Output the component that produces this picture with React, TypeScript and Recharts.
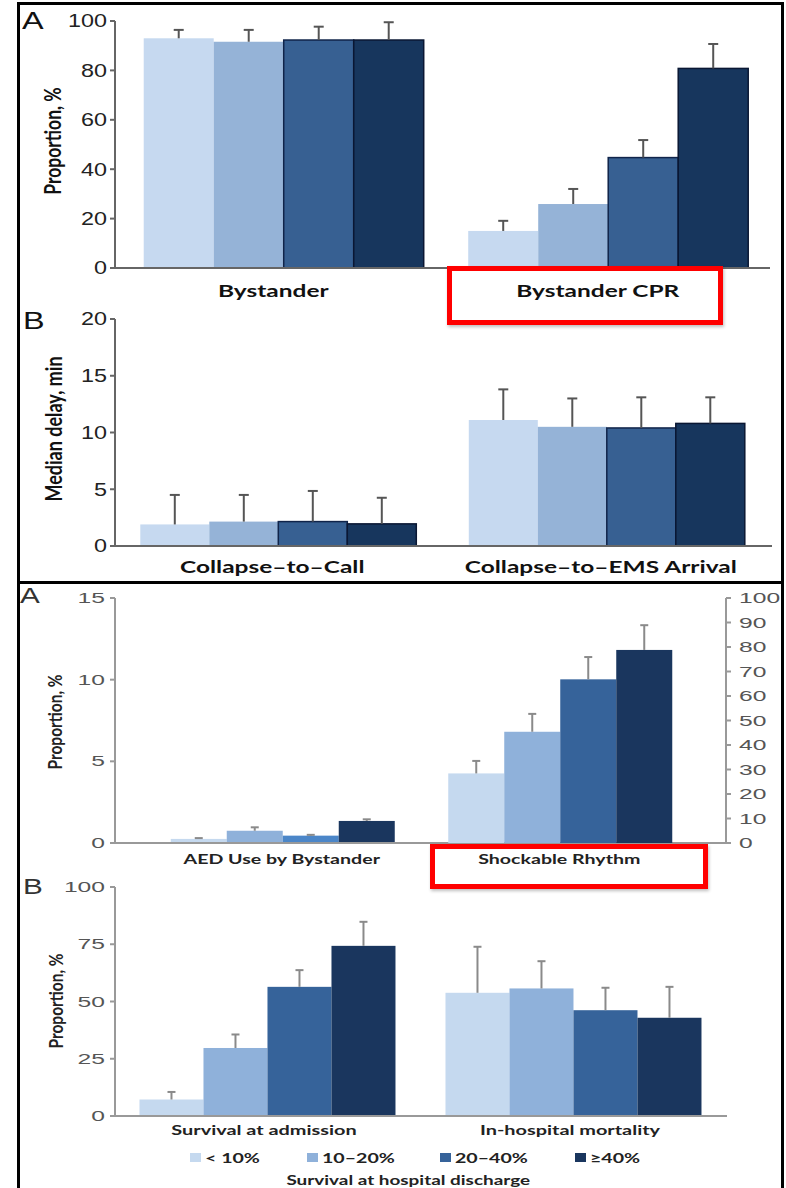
import React from "react";
import { BarChart, Bar, XAxis, YAxis, Legend, Cell } from "recharts";

// series (survival-at-discharge groups)
const seriesNames = ["< 10%", "10–20%", "20–40%", "≥40%"];
const colorsTop = ["#c6d9f0", "#95b3d7", "#376092", "#17365d"];
const colorsBottom = ["#c5d9ef", "#8fb1da", "#36639a", "#1a365e"];
const aedHighlight = "#4b86c8";

// top A
const panelACats = ["Bystander", "Bystander CPR"];
const bystander = [93, 91.6, 92.3, 92.3];
const bystanderUpper = [96.4, 96.4, 97.7, 99.5];
const bystanderCpr = [15, 25.9, 44.7, 80.8];
const bystanderCprUpper = [19.1, 32, 51.8, 90.7];
const panelATicks = [0, 20, 40, 60, 80, 100];

// top B
const panelBCats = ["Collapse–to–Call", "Collapse–to–EMS Arrival"];
const collapseToCall = [1.9, 2.15, 2.15, 1.95];
const collapseToCallUpper = [4.5, 4.5, 4.85, 4.25];
const collapseToEms = [11.1, 10.5, 10.4, 10.8];
const collapseToEmsUpper = [13.8, 13.0, 13.1, 13.1];
const panelBTicks = [0, 5, 10, 15, 20];

// bottom A (AED on left axis, shockable rhythm on right axis)
const panelCCats = ["AED Use by Bystander", "Shockable Rhythm"];
const aedUse = [0.25, 0.75, 0.45, 1.35];
const aedUseUpper = [0.3, 0.96, 0.5, 1.45];
const shockable = [28.4, 45.4, 66.8, 78.8];
const shockableUpper = [33.5, 52.7, 75.9, 88.9];
const panelCLeftTicks = [0, 5, 10, 15];
const panelCRightTicks = [0, 10, 20, 30, 40, 50, 60, 70, 80, 90, 100];

// bottom B
const panelDCats = ["Survival at admission", "In-hospital mortality"];
const survivalAdmission = [7.2, 29.7, 56.4, 74.3];
const survivalAdmissionUpper = [10.5, 35.6, 63.7, 84.8];
const inHospitalMortality = [53.8, 55.7, 46.2, 42.9];
const inHospitalMortalityUpper = [73.9, 67.6, 56, 56.4];
const panelDTicks = [0, 25, 50, 75, 100];

const NUM = "'Liberation Sans', Arial, sans-serif";
const LBL = "Lato, 'Open Sans', sans-serif";

const buildRows = (cats: string[], vals: (number[] | null)[], uppers: (number[] | null)[]) =>
  cats.map((c, i) => {
    const r: any = { cat: c };
    const v = vals[i];
    const u = uppers[i];
    if (v && u) {
      v.forEach((val, j) => {
        r[`s${j}`] = val;
        r[`u${j}`] = u[j];
      });
    }
    return r;
  });

const rowsA = buildRows(panelACats, [bystander, bystanderCpr], [bystanderUpper, bystanderCprUpper]);
const rowsB = buildRows(panelBCats, [collapseToCall, collapseToEms], [collapseToCallUpper, collapseToEmsUpper]);
const rowsCLeft = buildRows(panelCCats, [aedUse, null], [aedUseUpper, null]);
const rowsCRight = buildRows(panelCCats, [null, shockable], [null, shockableUpper]);
const rowsD = buildRows(panelDCats, [survivalAdmission, inHospitalMortality], [survivalAdmissionUpper, inHospitalMortalityUpper]);

type TickOpts = { size: number; sx: number; fill: string; family: string; weight?: number; dy?: number; dx?: number };
const makeTick = (o: TickOpts) => (p: any) => (
  <g transform={`translate(${p.x + (o.dx ?? 0)},${p.y})`}>
    <text
      transform={`scale(${o.sx},1)`}
      textAnchor={p.textAnchor}
      dy={o.dy ?? 0}
      dominantBaseline="central"
      fontSize={o.size}
      fontFamily={o.family}
      fontWeight={o.weight ?? 400}
      fill={o.fill}
    >
      {p.payload.value}
    </text>
  </g>
);

// bar rect plus an upward-only whisker; whisker length scaled from the bar's own pixel height
const whiskerBar = (idx: number, stroke: string | null, errColor: string, capW: number) => (props: any) => {
  const { x, y, width, height, payload, fill } = props;
  const v = payload[`s${idx}`];
  const u = payload[`u${idx}`];
  if (v == null || !width) return null;
  const top = v && height > 0 ? y - ((u - v) * height) / v : y;
  const cx = x + width / 2;
  return (
    <g>
      <rect x={x} y={y} width={width} height={height} fill={fill} stroke={stroke ?? "none"} strokeWidth={stroke ? 1.5 : 0} />
      {u != null && (
        <g stroke={errColor} strokeWidth={2}>
          <line x1={cx} x2={cx} y1={y} y2={top} />
          <line x1={cx - capW / 2} x2={cx + capW / 2} y1={top} y2={top} />
        </g>
      )}
    </g>
  );
};

const topYTick = makeTick({ size: 18, sx: 1.3, fill: "#222", family: NUM });
const botYTick = makeTick({ size: 14.5, sx: 1.7, fill: "#555", family: NUM });

const topOutline = [null, null, "#10244a", "#0a1733"];

const Letter = ({ ch, left, top, size, color }: any) => (
  <div
    style={{
      position: "absolute",
      left,
      top,
      fontSize: size,
      lineHeight: 1,
      fontFamily: NUM,
      color,
      transform: "scaleX(1.35)",
      transformOrigin: "left center",
    }}
  >
    {ch}
  </div>
);

// rotated axis title
const AxisTitle = ({ text, cx, cy, size, color }: any) => (
  <div
    style={{
      position: "absolute",
      left: cx,
      top: cy,
      fontSize: size,
      lineHeight: 1,
      fontFamily: LBL,
      fontWeight: 700,
      color,
      whiteSpace: "nowrap",
      transform: "translate(-50%, -50%) rotate(-90deg) scaleY(1.25)",
    }}
  >
    {text}
  </div>
);

const renderLegend = (props: any) => {
  const items = [...(props.payload || [])].sort(
    (a: any, b: any) => seriesNames.indexOf(a.value) - seriesNames.indexOf(b.value)
  );
  return (
    <div style={{ fontFamily: LBL, fontWeight: 700, color: "#222", fontSize: 14 }}>
      <div style={{ display: "flex", width: 560, height: 18, alignItems: "center" }}>
        {items.map((it: any, i: number) => (
          <div key={i} style={{ width: [117, 133, 135, 80][i], display: "flex", alignItems: "center" }}>
            <span style={{ width: 11, height: 9, background: it.color, display: "inline-block", marginRight: 4 }} />
            <span style={{ display: "inline-block", transform: "scaleX(1.4)", transformOrigin: "left center" }}>{it.value}</span>
          </div>
        ))}
      </div>
      <div style={{ marginTop: 5, textAlign: "center", height: 18, lineHeight: "18px" }}>
        <span style={{ display: "inline-block", transform: "scaleX(1.35)", transformOrigin: "center" }}>
          Survival at hospital discharge
        </span>
      </div>
    </div>
  );
};

export default function App() {
  return (
    <div style={{ position: "absolute", left: 0, top: 0, width: 786, height: 1188, overflow: "hidden", background: "#fff" }}>
      {/* top A */}
      <div style={{ position: "absolute", left: 0, top: 0 }}>
        <BarChart width={786} height={300} data={rowsA} margin={{ top: 21, right: 16, left: 0, bottom: 0 }} barCategoryGap="7%" barGap={0}>
          <XAxis dataKey="cat" height={32} padding={{ left: 6, right: 0 }} tickLine={false} tickSize={0} tickMargin={0}
            axisLine={{ stroke: "#666", strokeWidth: 2 }}
            tick={makeTick({ size: 17.5, sx: 1.4, fill: "#111", family: LBL, weight: 700, dy: 22, dx: -10 })} />
          <YAxis width={115} domain={[0, 100]} ticks={panelATicks} tickSize={5} tickMargin={3}
            axisLine={{ stroke: "#666", strokeWidth: 2 }} tickLine={{ stroke: "#666", strokeWidth: 2 }}
            tick={topYTick} />
          {seriesNames.map((n, j) => (
            <Bar key={n} dataKey={`s${j}`} name={n} fill={colorsTop[j]} isAnimationActive={false}
              shape={whiskerBar(j, topOutline[j], "#555", 10)} />
          ))}
        </BarChart>
      </div>

      {/* top B */}
      <div style={{ position: "absolute", left: 0, top: 300 }}>
        <BarChart width={786} height={283} data={rowsB} margin={{ top: 19, right: 14, left: 0, bottom: 0 }} barCategoryGap="7.7%" barGap={0}>
          <XAxis dataKey="cat" height={37} tickLine={false} tickSize={0} tickMargin={0}
            axisLine={{ stroke: "#666", strokeWidth: 2 }}
            tick={makeTick({ size: 17.5, sx: 1.4, fill: "#111", family: LBL, weight: 700, dy: 20, dx: -7 })} />
          <YAxis width={115} domain={[0, 20]} ticks={panelBTicks} tickSize={5} tickMargin={3}
            axisLine={{ stroke: "#666", strokeWidth: 2 }} tickLine={{ stroke: "#666", strokeWidth: 2 }}
            tick={topYTick} />
          {seriesNames.map((n, j) => (
            <Bar key={n} dataKey={`s${j}`} name={n} fill={colorsTop[j]} isAnimationActive={false}
              shape={whiskerBar(j, topOutline[j], "#555", 10)} />
          ))}
        </BarChart>
      </div>

      {/* bottom A: AED use on left axis */}
      <div style={{ position: "absolute", left: 0, top: 583 }}>
        <BarChart width={786} height={300} data={rowsCLeft} margin={{ top: 15, right: 0, left: 0, bottom: 0 }} barCategoryGap="10%" barGap={0}>
          <XAxis dataKey="cat" height={40} padding={{ left: 28, right: 28 }} tickLine={false} tickSize={0} tickMargin={0}
            axisLine={{ stroke: "#999", strokeWidth: 2 }}
            tick={makeTick({ size: 14, sx: 1.4, fill: "#222", family: LBL, weight: 700, dy: 16 })} />
          <YAxis yAxisId="left" width={115} domain={[0, 15]} ticks={panelCLeftTicks} tickSize={5} tickMargin={5}
            axisLine={{ stroke: "#999", strokeWidth: 2 }} tickLine={{ stroke: "#999", strokeWidth: 2 }}
            tick={botYTick} />
          <YAxis yAxisId="right" orientation="right" width={60} domain={[0, 100]} tick={false} tickLine={false} axisLine={false} />
          {seriesNames.map((n, j) => (
            <Bar key={n} yAxisId="left" dataKey={`s${j}`} name={n} fill={colorsBottom[j]} isAnimationActive={false}
              shape={whiskerBar(j, null, "#8a8a8a", 8)}>
              {rowsCLeft.map((_, i) => (
                <Cell key={i} fill={j === 2 && i === 0 ? aedHighlight : colorsBottom[j]} />
              ))}
            </Bar>
          ))}
        </BarChart>
      </div>

      {/* bottom A: shockable rhythm on right axis (same frame, overlaid) */}
      <div style={{ position: "absolute", left: 0, top: 583 }}>
        <BarChart width={786} height={300} data={rowsCRight} margin={{ top: 15, right: 0, left: 0, bottom: 0 }} barCategoryGap="10%" barGap={0}>
          <XAxis dataKey="cat" height={40} padding={{ left: 28, right: 28 }} tick={false} tickLine={false} axisLine={false} />
          <YAxis yAxisId="left" width={115} domain={[0, 15]} tick={false} tickLine={false} axisLine={false} />
          <YAxis yAxisId="right" orientation="right" width={60} domain={[0, 100]} ticks={panelCRightTicks} tickSize={5} tickMargin={8}
            axisLine={{ stroke: "#999", strokeWidth: 2 }} tickLine={{ stroke: "#999", strokeWidth: 2 }}
            tick={botYTick} />
          {seriesNames.map((n, j) => (
            <Bar key={n} yAxisId="right" dataKey={`s${j}`} name={n} fill={colorsBottom[j]} isAnimationActive={false}
              shape={whiskerBar(j, null, "#8a8a8a", 8)} />
          ))}
        </BarChart>
      </div>

      {/* bottom B */}
      <div style={{ position: "absolute", left: 0, top: 870 }}>
        <BarChart width={786} height={318} data={rowsD} margin={{ top: 17, right: 59, left: 0, bottom: 0 }} barCategoryGap="8%" barGap={0}>
          <XAxis dataKey="cat" height={72} tickLine={false} tickSize={0} tickMargin={0}
            axisLine={{ stroke: "#999", strokeWidth: 2 }}
            tick={makeTick({ size: 14, sx: 1.42, fill: "#222", family: LBL, weight: 700, dy: 14, dx: -4 })} />
          <YAxis width={115} domain={[0, 100]} ticks={panelDTicks} tickSize={5} tickMargin={5}
            axisLine={{ stroke: "#999", strokeWidth: 2 }} tickLine={{ stroke: "#999", strokeWidth: 2 }}
            tick={botYTick} />
          <Legend verticalAlign="middle" align="center" content={renderLegend}
            wrapperStyle={{ top: 278, left: 190, width: 436 }} />
          {seriesNames.map((n, j) => (
            <Bar key={n} dataKey={`s${j}`} name={n} fill={colorsBottom[j]} isAnimationActive={false}
              shape={whiskerBar(j, null, "#8a8a8a", 8)} />
          ))}
        </BarChart>
      </div>

      {/* axis titles */}
      <AxisTitle text="Proportion, %" cx={53} cy={141} size={17.5} color="#111" />
      <AxisTitle text="Median delay, min" cx={53} cy={429} size={18} color="#111" />
      <AxisTitle text="Proportion, %" cx={55} cy={722} size={15.5} color="#222" />
      <AxisTitle text="Proportion, %" cx={56} cy={1001} size={15.5} color="#222" />

      {/* panel letters */}
      <Letter ch="A" left={22} top={9} size={24} color="#111" />
      <Letter ch="B" left={23} top={309} size={24} color="#111" />
      <Letter ch="A" left={20} top={585} size={22} color="#333" />
      <Letter ch="B" left={23} top={876} size={22} color="#333" />

      {/* frame */}
      <div style={{ position: "absolute", left: 17, top: 2, width: 767, height: 1220, border: "3px solid #000", boxSizing: "border-box" }} />
      <div style={{ position: "absolute", left: 17, top: 581, width: 767, height: 3, background: "#000" }} />

      {/* highlight boxes */}
      <div style={{ position: "absolute", left: 447, top: 266, width: 276, height: 59, border: "5px solid #ff0000", boxSizing: "border-box", boxShadow: "1px 2px 3px rgba(0,0,0,0.25)" }} />
      <div style={{ position: "absolute", left: 430, top: 844, width: 278, height: 45, border: "5px solid #ff0000", boxSizing: "border-box", boxShadow: "1px 2px 3px rgba(0,0,0,0.25)" }} />
    </div>
  );
}
